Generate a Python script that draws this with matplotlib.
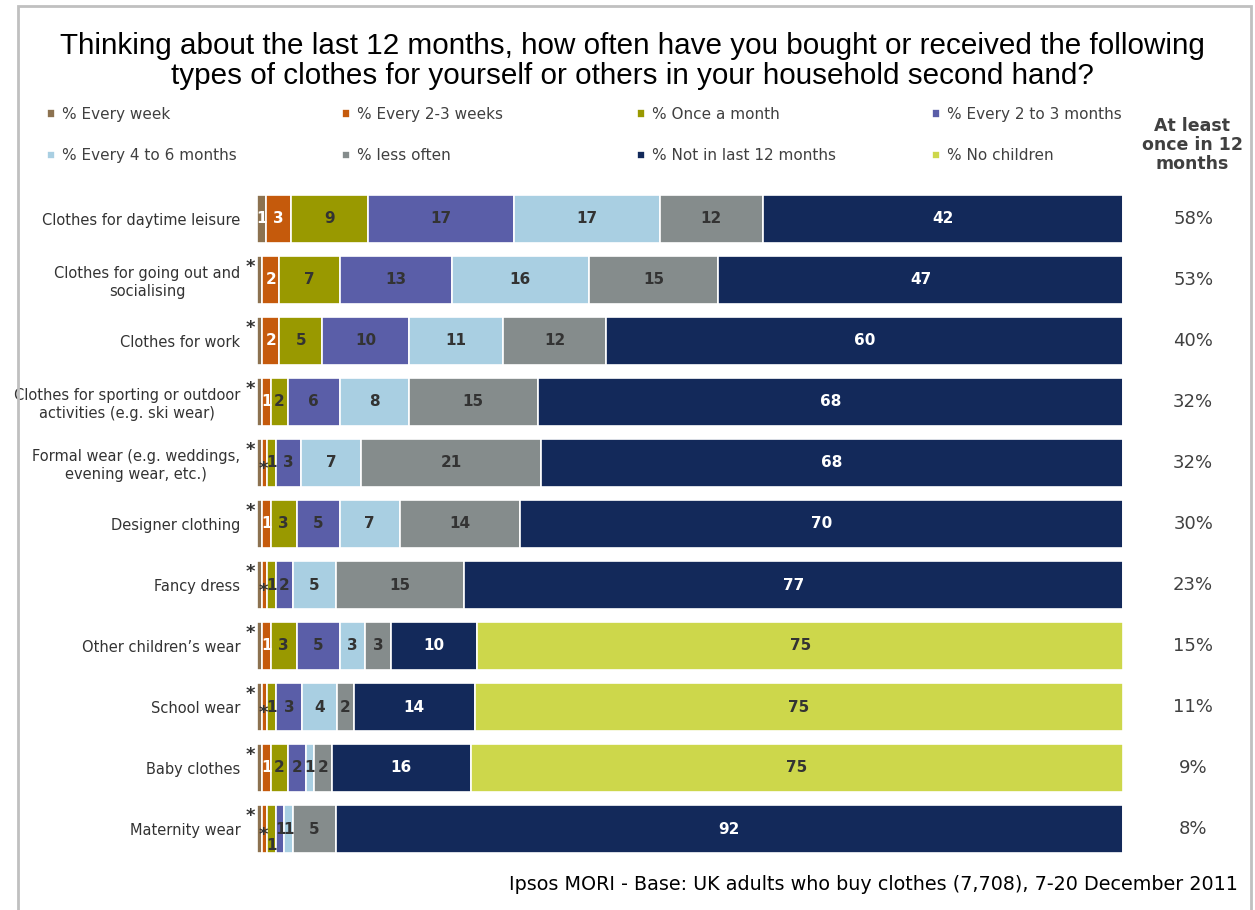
import matplotlib
matplotlib.use('Agg')
import matplotlib.pyplot as plt
from matplotlib.patches import Rectangle

# survey answers per clothing type, in %; STAR marks values under 0.5 (shown as "*")
STAR = 0.6

categories = ["Clothes for daytime leisure",
              "Clothes for going out and\nsocialising",
              "Clothes for work",
              "Clothes for sporting or outdoor\nactivities (e.g. ski wear)",
              "Formal wear (e.g. weddings,\nevening wear, etc.)",
              "Designer clothing",
              "Fancy dress",
              "Other children\u2019s wear",
              "School wear",
              "Baby clothes",
              "Maternity wear"]

series_names = ["% Every week", "% Every 2-3 weeks", "% Once a month", "% Every 2 to 3 months",
                "% Every 4 to 6 months", "% less often", "% Not in last 12 months", "% No children"]

every_week = [1, STAR, STAR, STAR, STAR, STAR, STAR, STAR, STAR, STAR, STAR]
every_2_3_weeks = [3, 2, 2, 1, STAR, 1, STAR, 1, STAR, 1, STAR]
once_a_month = [9, 7, 5, 2, 1, 3, 1, 3, 1, 2, 1]
every_2_3_months = [17, 13, 10, 6, 3, 5, 2, 5, 3, 2, 1]
every_4_6_months = [17, 16, 11, 8, 7, 7, 5, 3, 4, 1, 1]
less_often = [12, 15, 12, 15, 21, 14, 15, 3, 2, 2, 5]
not_in_12_months = [42, 47, 60, 68, 68, 70, 77, 10, 14, 16, 92]
no_children = [0, 0, 0, 0, 0, 0, 0, 75, 75, 75, 0]

at_least_once = [58, 53, 40, 32, 32, 30, 23, 15, 11, 9, 8]

series = [every_week, every_2_3_weeks, once_a_month, every_2_3_months,
          every_4_6_months, less_often, not_in_12_months, no_children]
colors = ['#8C7250', '#C55A0C', '#999900', '#5A5EA8', '#A9CFE2', '#858C8C', '#13295A', '#CDD74B']
text_colors = ['white', 'white', '#333333', '#333333', '#333333', '#333333', 'white', '#333333']

dark = '#404040'

# 100% stacked: each row is scaled to its own total
totals = [sum(col) for col in zip(*series)]

fig = plt.figure(figsize=(12.55, 9.1), dpi=100)
W, H = 1255, 910
ax = fig.add_axes([257 / W, 1 - 859.5 / H, 866 / W, 671 / H])

left = [0] * len(categories)
handles = []
for k, (vals, col, tcol) in enumerate(zip(series, colors, text_colors)):
    widths = [v / t * 100 for v, t in zip(vals, totals)]
    b = ax.barh(range(len(categories)), widths, left=left, height=0.79, color=col,
                edgecolor='white', linewidth=1.2, label=series_names[k])
    handles.append(b)
    for i, (v, w) in enumerate(zip(vals, widths)):
        if v == 0:
            continue
        cx = left[i] + w / 2
        cy = i
        if v == STAR:
            # stars sit outside the bar, stacked to the left
            if k == 0:
                ax.text(left[i] - 0.8, i - 0.22, '*', ha='center', va='center',
                        fontsize=13, fontweight='bold', color='#333333')
            else:
                ax.text(left[i] + 0.1, i + 0.1, '*', ha='center', va='center',
                        fontsize=13, fontweight='bold', color='#333333')
            continue
        if i == 10 and k == 2:
            cy = i + 0.27
        ax.text(cx, cy, f"{v:g}", ha='center', va='center', fontsize=11,
                fontweight='bold', color=tcol)
    left = [l + w for l, w in zip(left, widths)]

ax.set_xlim(0, 100)
ax.set_ylim(len(categories) - 0.5, -0.5)
ax.set_yticks(range(len(categories)))
ax.set_yticklabels(categories, fontsize=10.5, color='#333333', multialignment='center')
ax.tick_params(axis='y', length=0, pad=12)
ax.set_xticks([])
for s in ax.spines.values():
    s.set_visible(False)

# share of people buying at least once a year
for i, v in enumerate(at_least_once):
    ax.text(1.081, i, f"{v}%", transform=ax.get_yaxis_transform(), ha='center',
            va='center', fontsize=13, color=dark)

fig.text(1192 / W, 1 - 145 / H, "At least\nonce in 12\nmonths", ha='center', va='center',
         fontsize=12.5, fontweight='bold', color=dark, linespacing=1.1)

# legend laid out in four evenly spaced columns
col_x = [47, 342, 637, 932]
for c in range(4):
    leg = fig.legend([handles[c], handles[c + 4]], [series_names[c], series_names[c + 4]],
                     loc='upper left', bbox_to_anchor=(col_x[c] / W, 1 - 107 / H),
                     frameon=False, fontsize=11, handlelength=0.5, handleheight=0.5,
                     handletextpad=0.45, labelspacing=1.72, borderpad=0, borderaxespad=0)
    for t in leg.get_texts():
        t.set_color(dark)

fig.text(632 / W, 1 - 61 / H,
         "Thinking about the last 12 months, how often have you bought or received the following\n"
         "types of clothes for yourself or others in your household second hand?",
         ha='center', va='center', fontsize=21.3, family='Liberation Sans', color='black',
         linespacing=1.08)

fig.text(1238 / W, 1 - 884 / H,
         "Ipsos MORI - Base: UK adults who buy clothes (7,708), 7-20 December 2011",
         ha='right', va='center', fontsize=13.8, color='black')

fig.add_artist(Rectangle((18 / W, -0.02), (1251 - 18) / W, 1.02 - 6 / H, transform=fig.transFigure,
                         fill=False, edgecolor='#C0C0C0', linewidth=2))

fig.savefig('out.png', dpi=100)
